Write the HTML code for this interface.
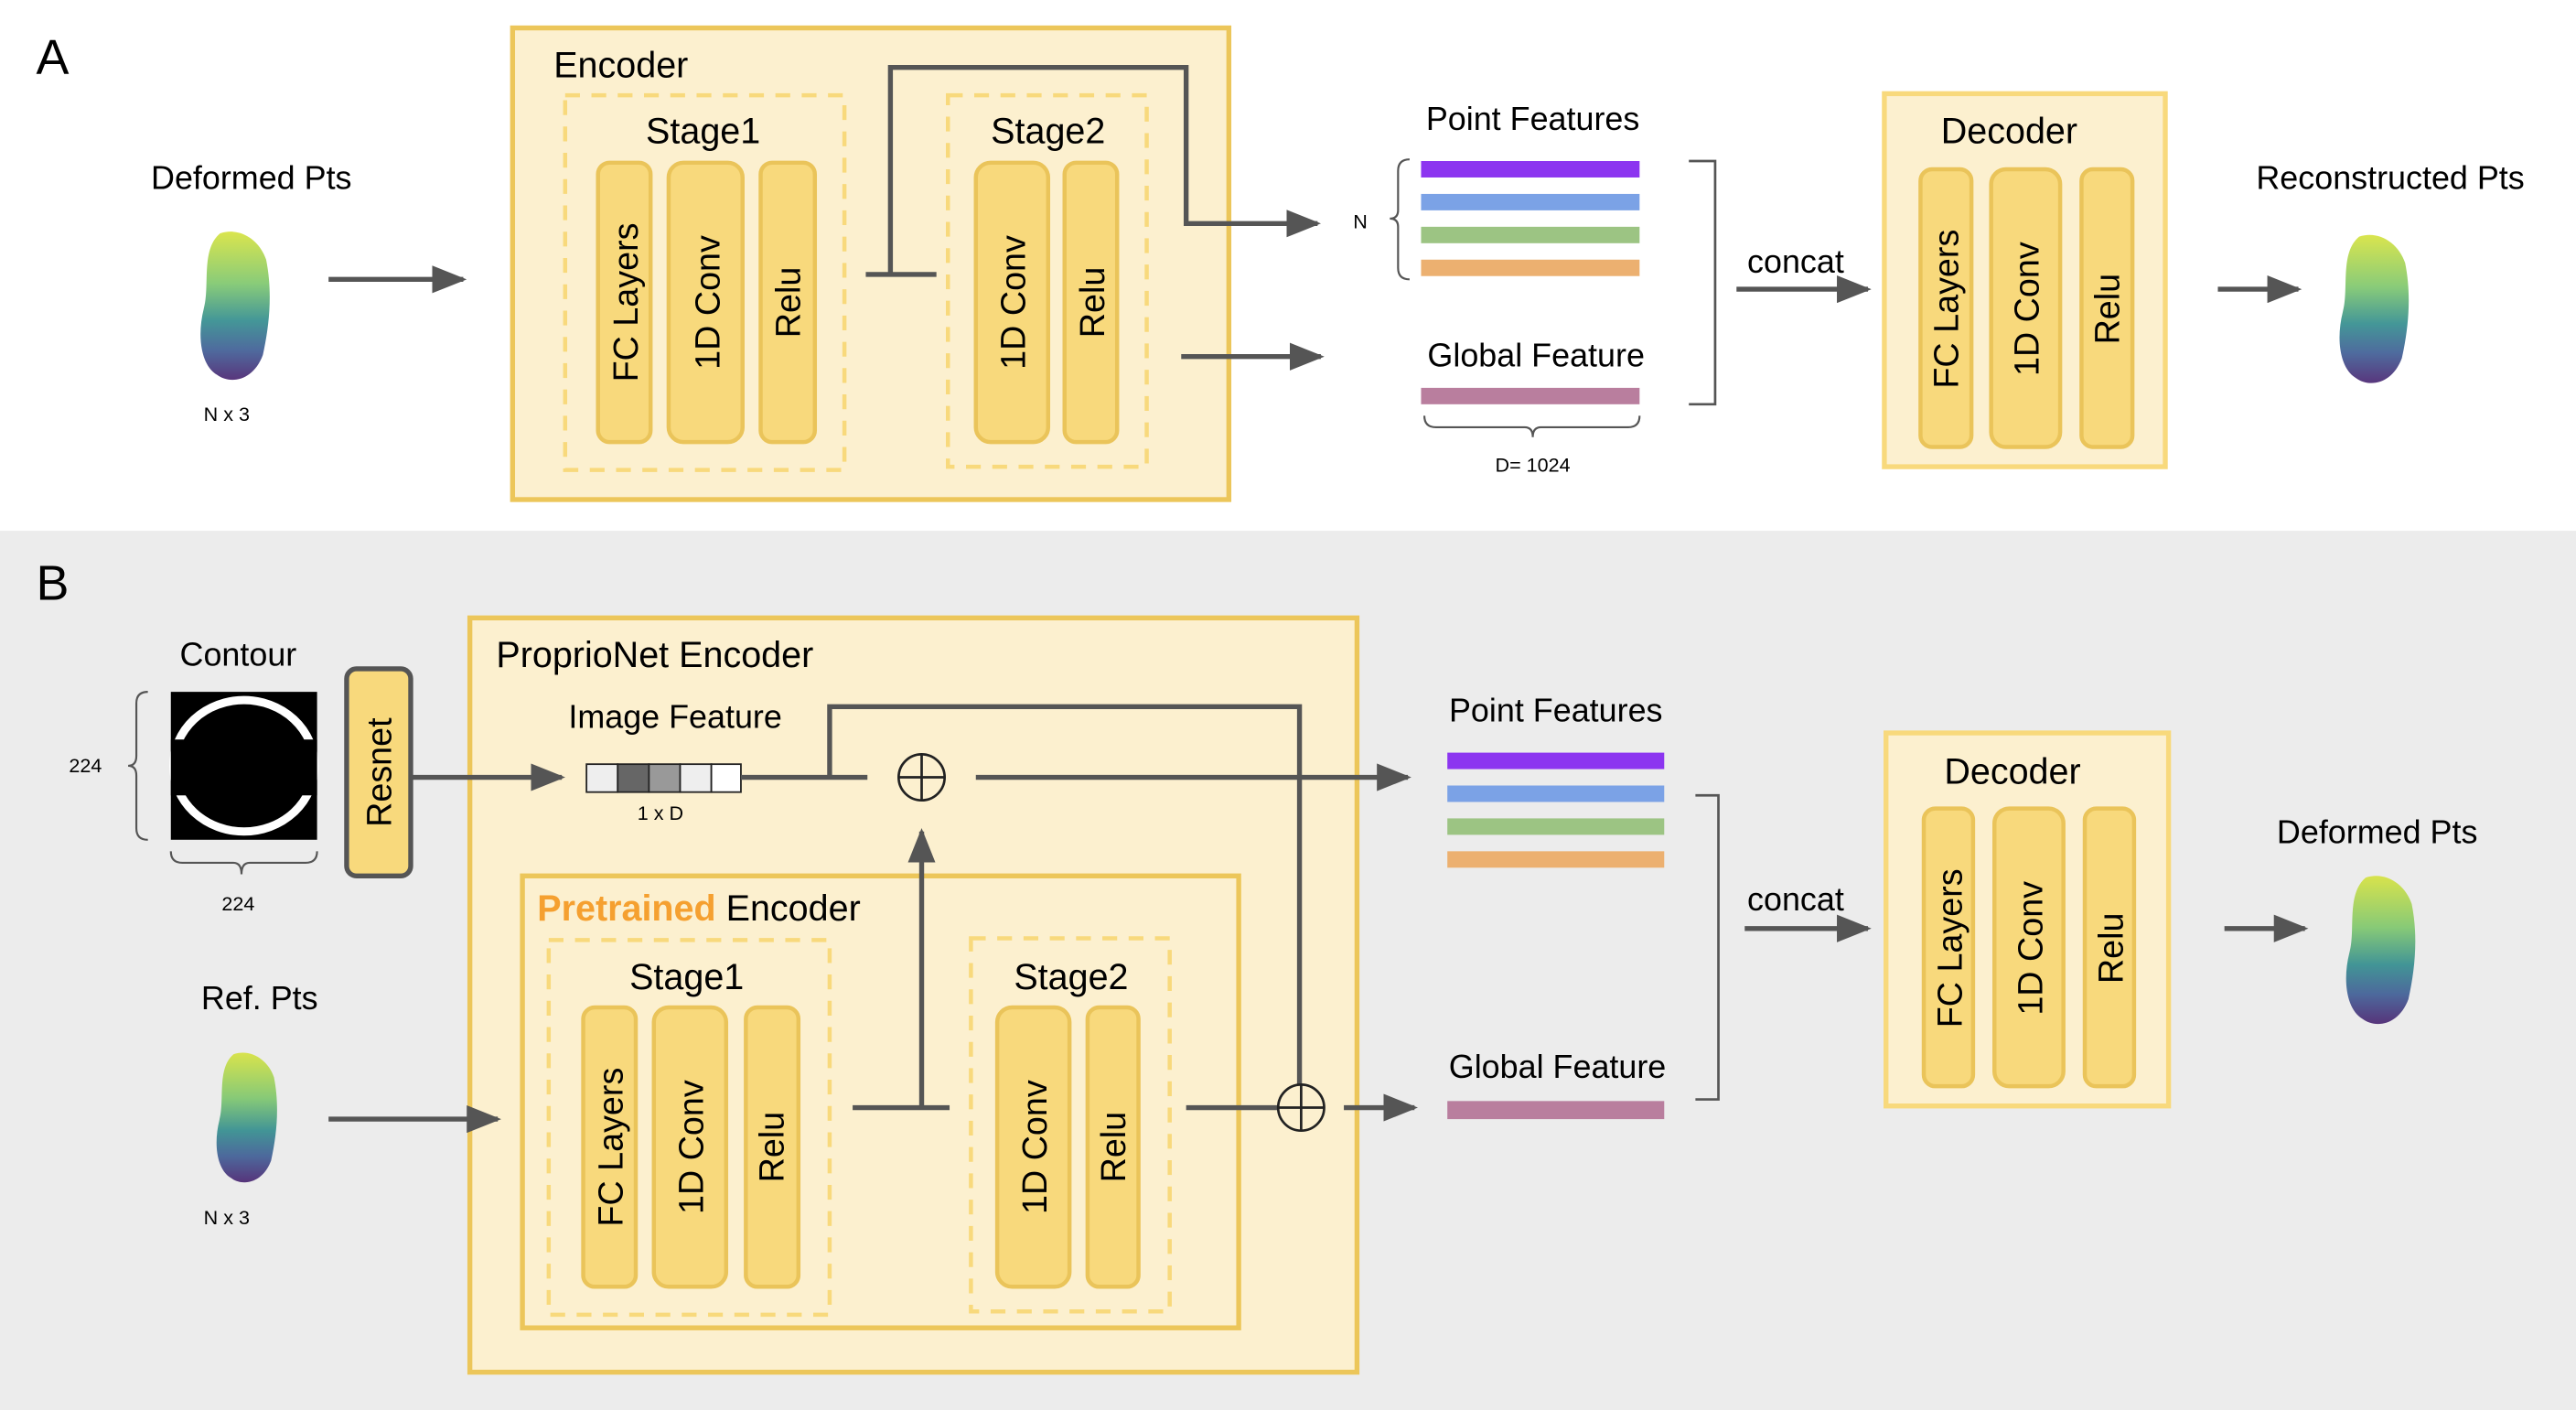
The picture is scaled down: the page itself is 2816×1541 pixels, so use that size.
<!DOCTYPE html>
<html><head><meta charset="utf-8"><style>
html,body{margin:0;padding:0;background:#fff}
svg{display:block}
text{font-family:"Liberation Sans",Arial,sans-serif;fill:#000}
</style></head><body>
<svg width="2816" height="1541" viewBox="0 0 1568 858" preserveAspectRatio="none" xmlns="http://www.w3.org/2000/svg">
<defs>
<linearGradient id="pc" x1="0" y1="0" x2="0" y2="1">
<stop offset="0" stop-color="#d6e23a"/><stop offset="0.35" stop-color="#7cc66a"/><stop offset="0.6" stop-color="#2f8b8c"/><stop offset="0.8" stop-color="#3b5a93"/><stop offset="1" stop-color="#46206e"/>
</linearGradient>
<marker id="ah" viewBox="0 0 10 8" refX="9" refY="4" markerWidth="7" markerHeight="5.6" orient="auto" markerUnits="strokeWidth"><path d="M0,0 L10,4 L0,8 z" fill="#555"/></marker>
<symbol id="cloud" viewBox="0 0 52 96"><path d="M16,4 C28,0 40,8 44,20 C48,40 46,60 42,78 C36,94 22,96 14,90 C4,84 2,66 6,50 C10,36 4,14 16,4 z" fill="url(#pc)" opacity="0.9"/></symbol>
</defs>
<rect x="0" y="0" width="1568" height="323" fill="#fff"/>
<rect x="0" y="323" width="1568" height="535" fill="#ececec"/>

<!-- Panel A -->
<text x="22" y="45" font-size="30">A</text>
<text x="153" y="115" font-size="20" text-anchor="middle">Deformed Pts</text>
<use href="#cloud" x="118" y="138" width="52" height="96"/>
<text x="138" y="256" font-size="12" text-anchor="middle">N x 3</text>
<line x1="200" y1="170" x2="282" y2="170" stroke="#555" stroke-width="3" marker-end="url(#ah)"/>

<rect x="312" y="17" width="436" height="287" fill="#fcf0cf" stroke="#ecc65a" stroke-width="3"/>
<text x="337" y="47" font-size="22">Encoder</text>
<rect x="344" y="58" width="170" height="228" fill="none" stroke="#f8d97c" stroke-width="2.5" stroke-dasharray="9,7"/>
<text x="428" y="87" font-size="22" text-anchor="middle">Stage1</text>
<rect x="577" y="58" width="121" height="226" fill="none" stroke="#f8d97c" stroke-width="2.5" stroke-dasharray="9,7"/>
<text x="638" y="87" font-size="22" text-anchor="middle">Stage2</text>
<g fill="#f8d97c" stroke="#eac45a" stroke-width="2.5">
<rect x="364" y="99" width="32" height="170" rx="7"/><rect x="407" y="99" width="45" height="170" rx="9"/><rect x="463" y="99" width="33" height="170" rx="7"/>
<rect x="594" y="99" width="44" height="170" rx="9"/><rect x="648" y="99" width="32" height="170" rx="7"/>
</g>
<g font-size="21" text-anchor="middle">
<text transform="translate(388,184) rotate(-90)">FC Layers</text>
<text transform="translate(438,184) rotate(-90)">1D Conv</text>
<text transform="translate(487,184) rotate(-90)">Relu</text>
<text transform="translate(624,184) rotate(-90)">1D Conv</text>
<text transform="translate(672,184) rotate(-90)">Relu</text>
</g>
<polyline points="527,167 570,167" stroke="#555" stroke-width="3" fill="none"/>
<polyline points="542,167 542,41 722,41 722,136 802,136" stroke="#555" stroke-width="3" fill="none" marker-end="url(#ah)"/>
<line x1="719" y1="217" x2="804" y2="217" stroke="#555" stroke-width="3" marker-end="url(#ah)"/>

<text x="933" y="79" font-size="20" text-anchor="middle">Point Features</text>
<rect x="865" y="98" width="133" height="10" fill="#8c35f0"/>
<rect x="865" y="118" width="133" height="10" fill="#7ba2e6"/>
<rect x="865" y="138" width="133" height="10" fill="#9cc483"/>
<rect x="865" y="158" width="133" height="10" fill="#ecb070"/>
<path d="M858,97 Q851,97 851,104 L851,128 Q851,133 846,133 Q851,133 851,138 L851,163 Q851,170 858,170" fill="none" stroke="#555" stroke-width="1.2"/>
<text x="828" y="139" font-size="12" text-anchor="middle">N</text>
<text x="935" y="223" font-size="20" text-anchor="middle">Global Feature</text>
<rect x="865" y="236" width="133" height="10" fill="#b97e9e"/>
<path d="M867,253 Q867,260 874,260 L928,260 Q933,260 933,266 Q933,260 938,260 L991,260 Q998,260 998,253" fill="none" stroke="#555" stroke-width="1.2"/>
<text x="933" y="287" font-size="12" text-anchor="middle">D= 1024</text>
<polyline points="1028,98 1044,98 1044,246 1028,246" fill="none" stroke="#555" stroke-width="1.5"/>
<text x="1093" y="166" font-size="20" text-anchor="middle">concat</text>
<line x1="1057" y1="176" x2="1137" y2="176" stroke="#555" stroke-width="3" marker-end="url(#ah)"/>

<rect x="1147" y="57" width="171" height="227" fill="#fcf0cf" stroke="#f8d97c" stroke-width="3"/>
<text x="1223" y="87" font-size="22" text-anchor="middle">Decoder</text>
<g fill="#f8d97c" stroke="#eac45a" stroke-width="2.5">
<rect x="1169" y="103" width="31" height="169" rx="7"/><rect x="1212" y="103" width="42" height="169" rx="9"/><rect x="1267" y="103" width="31" height="169" rx="7"/>
</g>
<g font-size="21" text-anchor="middle">
<text transform="translate(1192,188) rotate(-90)">FC Layers</text>
<text transform="translate(1241,188) rotate(-90)">1D Conv</text>
<text transform="translate(1290,188) rotate(-90)">Relu</text>
</g>
<line x1="1350" y1="176" x2="1399" y2="176" stroke="#555" stroke-width="3" marker-end="url(#ah)"/>
<text x="1455" y="115" font-size="20" text-anchor="middle">Reconstructed Pts</text>
<use href="#cloud" x="1420" y="140" width="52" height="96"/>

<!-- Panel B -->
<text x="22" y="365" font-size="30">B</text>
<text x="145" y="405" font-size="20" text-anchor="middle">Contour</text>
<rect x="104" y="421" width="89" height="90" fill="#000"/>
<ellipse cx="148.5" cy="466" rx="43" ry="40" fill="none" stroke="#fff" stroke-width="5"/>
<rect x="104" y="450" width="89" height="34" fill="#000"/>
<path d="M90,421 Q83,421 83,428 L83,460 Q83,466 78,466 Q83,466 83,472 L83,504 Q83,511 90,511" fill="none" stroke="#555" stroke-width="1.2"/>
<text x="52" y="470" font-size="12" text-anchor="middle">224</text>
<path d="M104,518 Q104,525 111,525 L142,525 Q147,525 147,532 Q147,525 152,525 L186,525 Q193,525 193,518" fill="none" stroke="#555" stroke-width="1.2"/>
<text x="145" y="554" font-size="12" text-anchor="middle">224</text>
<rect x="211" y="407" width="39" height="126" rx="6" fill="#f8d97c" stroke="#555" stroke-width="3"/>
<text transform="translate(238,470) rotate(-90)" font-size="21" text-anchor="middle">Resnet</text>

<rect x="286" y="376" width="540" height="459" fill="#fcf0cf" stroke="#ecc65a" stroke-width="3"/>
<line x1="250" y1="473" x2="342" y2="473" stroke="#555" stroke-width="3" marker-end="url(#ah)"/>
<text x="302" y="406" font-size="22">ProprioNet Encoder</text>
<text x="411" y="443" font-size="20" text-anchor="middle">Image Feature</text>
<g stroke="#222" stroke-width="1">
<rect x="357" y="465" width="19" height="17" fill="#eee"/><rect x="376" y="465" width="19" height="17" fill="#666"/><rect x="395" y="465" width="19" height="17" fill="#999"/><rect x="414" y="465" width="19" height="17" fill="#eee"/><rect x="433" y="465" width="18" height="17" fill="#fff"/>
</g>
<text x="402" y="499" font-size="12" text-anchor="middle">1 x D</text>
<line x1="451" y1="473" x2="528" y2="473" stroke="#555" stroke-width="3"/>
<polyline points="505,473 505,430 791,430 791,660" fill="none" stroke="#555" stroke-width="3"/>
<circle cx="561" cy="473" r="14" fill="none" stroke="#222" stroke-width="1.5"/>
<line x1="547" y1="473" x2="575" y2="473" stroke="#222" stroke-width="1.5"/><line x1="561" y1="459" x2="561" y2="487" stroke="#222" stroke-width="1.5"/>
<line x1="594" y1="473" x2="857" y2="473" stroke="#555" stroke-width="3" marker-end="url(#ah)"/>

<rect x="318" y="533" width="436" height="275" fill="#fcf0cf" stroke="#ecc65a" stroke-width="3"/>
<text x="327" y="560" font-size="22"><tspan fill="#f5a030" font-weight="bold">Pretrained</tspan> Encoder</text>
<rect x="334" y="572" width="171" height="228" fill="none" stroke="#f8d97c" stroke-width="2.5" stroke-dasharray="9,7"/>
<text x="418" y="602" font-size="22" text-anchor="middle">Stage1</text>
<rect x="591" y="571" width="121" height="227" fill="none" stroke="#f8d97c" stroke-width="2.5" stroke-dasharray="9,7"/>
<text x="652" y="602" font-size="22" text-anchor="middle">Stage2</text>
<g fill="#f8d97c" stroke="#eac45a" stroke-width="2.5">
<rect x="355" y="613" width="32" height="170" rx="7"/><rect x="398" y="613" width="44" height="170" rx="9"/><rect x="454" y="613" width="32" height="170" rx="7"/>
<rect x="607" y="613" width="44" height="170" rx="9"/><rect x="662" y="613" width="31" height="170" rx="7"/>
</g>
<g font-size="21" text-anchor="middle">
<text transform="translate(379,698) rotate(-90)">FC Layers</text>
<text transform="translate(428,698) rotate(-90)">1D Conv</text>
<text transform="translate(477,698) rotate(-90)">Relu</text>
<text transform="translate(637,698) rotate(-90)">1D Conv</text>
<text transform="translate(685,698) rotate(-90)">Relu</text>
</g>
<line x1="519" y1="674" x2="578" y2="674" stroke="#555" stroke-width="3"/>
<line x1="561" y1="674" x2="561" y2="506" stroke="#555" stroke-width="3" marker-end="url(#ah)"/>
<line x1="722" y1="674" x2="778" y2="674" stroke="#555" stroke-width="3"/>
<circle cx="792" cy="674" r="14" fill="none" stroke="#222" stroke-width="1.5"/>
<line x1="778" y1="674" x2="806" y2="674" stroke="#222" stroke-width="1.5"/><line x1="792" y1="660" x2="792" y2="688" stroke="#222" stroke-width="1.5"/>
<line x1="818" y1="674" x2="861" y2="674" stroke="#555" stroke-width="3" marker-end="url(#ah)"/>

<text x="158" y="614" font-size="20" text-anchor="middle">Ref. Pts</text>
<use href="#cloud" x="124" y="638" width="54" height="84"/>
<text x="138" y="745" font-size="12" text-anchor="middle">N x 3</text>
<line x1="200" y1="681" x2="303" y2="681" stroke="#555" stroke-width="3" marker-end="url(#ah)"/>

<text x="947" y="439" font-size="20" text-anchor="middle">Point Features</text>
<rect x="881" y="458" width="132" height="10" fill="#8c35f0"/>
<rect x="881" y="478" width="132" height="10" fill="#7ba2e6"/>
<rect x="881" y="498" width="132" height="10" fill="#9cc483"/>
<rect x="881" y="518" width="132" height="10" fill="#ecb070"/>
<text x="948" y="656" font-size="20" text-anchor="middle">Global Feature</text>
<rect x="881" y="670" width="132" height="11" fill="#b97e9e"/>
<polyline points="1032,484 1046,484 1046,669 1032,669" fill="none" stroke="#555" stroke-width="1.5"/>
<text x="1093" y="554" font-size="20" text-anchor="middle">concat</text>
<line x1="1062" y1="565" x2="1137" y2="565" stroke="#555" stroke-width="3" marker-end="url(#ah)"/>

<rect x="1148" y="446" width="172" height="227" fill="#fcf0cf" stroke="#f8d97c" stroke-width="3"/>
<text x="1225" y="477" font-size="22" text-anchor="middle">Decoder</text>
<g fill="#f8d97c" stroke="#eac45a" stroke-width="2.5">
<rect x="1171" y="492" width="30" height="169" rx="7"/><rect x="1214" y="492" width="42" height="169" rx="9"/><rect x="1269" y="492" width="30" height="169" rx="7"/>
</g>
<g font-size="21" text-anchor="middle">
<text transform="translate(1194,577) rotate(-90)">FC Layers</text>
<text transform="translate(1243,577) rotate(-90)">1D Conv</text>
<text transform="translate(1292,577) rotate(-90)">Relu</text>
</g>
<line x1="1354" y1="565" x2="1403" y2="565" stroke="#555" stroke-width="3" marker-end="url(#ah)"/>
<text x="1447" y="513" font-size="20" text-anchor="middle">Deformed Pts</text>
<use href="#cloud" x="1424" y="530" width="52" height="96"/>
</svg>
</body></html>
